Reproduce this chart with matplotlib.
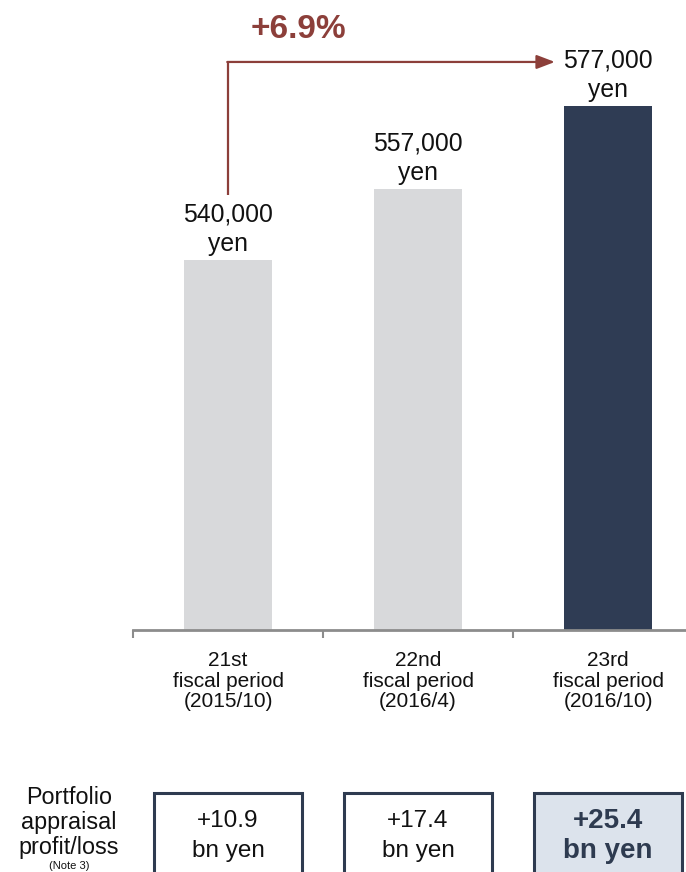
import matplotlib
matplotlib.use("Agg")
import matplotlib.pyplot as plt
from matplotlib.patches import Rectangle

plt.rcParams['font.family'] = ['Liberation Sans', 'DejaVu Sans']

# Data
periods = ["21st\nfiscal period\n(2015/10)",
           "22nd\nfiscal period\n(2016/4)",
           "23rd\nfiscal period\n(2016/10)"]
nav_per_unit = [540000, 557000, 577000]
appraisal_profit = [10.9, 17.4, 25.4]

light_bar = "#D8D9DB"
dark_bar = "#2F3C54"
arrow_col = "#8C3F3A"
box_edge = "#2E3B50"
box_fill_hl = "#DCE3EC"
text_col = "#111111"

W, H = 686, 872
fig = plt.figure(figsize=(W / 100, H / 100), dpi=100)

# Main bar axes: baseline at y=630 px, spans from x=133 px to right edge
ax = fig.add_axes([133 / W, (H - 630) / H, 1 - 133 / W, 630 / H])
x = list(range(len(nav_per_unit)))
colors = [light_bar, light_bar, dark_bar]
ax.bar(x, nav_per_unit, width=0.46, color=colors, zorder=2)
ax.set_xlim(-0.5, 2.41)
ax.set_ylim(451000, 602500)

for s in ["top", "right", "left"]:
    ax.spines[s].set_visible(False)
ax.spines["bottom"].set_color("#8C8C8C")
ax.spines["bottom"].set_linewidth(2)
ax.set_yticks([])
ax.set_xticks([-0.5, 0.5, 1.5], labels=[])
ax.tick_params(axis="x", length=6, width=1.5, color="#8C8C8C", direction="out")

for i, lab in enumerate(periods):
    ax.annotate(lab, xy=(i, 451000), xytext=(0, -15), textcoords="offset points",
                ha="center", va="top", fontsize=15, linespacing=1.12, color=text_col)

# Value labels above bars
for i, v in enumerate(nav_per_unit):
    ax.annotate(f"{v:,}\nyen", xy=(i, v), xytext=(0, 3), textcoords="offset points",
                ha="center", va="bottom", fontsize=17.8, linespacing=1.28, color=text_col)

# Growth arrow from first period to latest period
growth = nav_per_unit[-1] / nav_per_unit[0] - 1
y_start = nav_per_unit[0] + 15600
y_top = nav_per_unit[-1] + 10600
ax.plot([0, 0], [y_start, y_top], color=arrow_col, lw=1.6, solid_capstyle="butt", zorder=3)
ax.annotate("", xy=(1.72, y_top), xytext=(-0.004, y_top),
            arrowprops=dict(arrowstyle="-|>,head_length=1.1,head_width=0.42",
                            color=arrow_col, lw=1.6, shrinkA=0, shrinkB=0))
ax.annotate(f"+{growth * 100:.1f}%", xy=(0.37, y_top), xytext=(0, 12),
            textcoords="offset points", ha="center", va="bottom",
            fontsize=24, fontweight="bold", color=arrow_col, clip_on=False)

# Bottom row: appraisal profit boxes
bx = fig.add_axes([133 / W, 0, 1 - 133 / W, 100 / H])
bx.set_xlim(-0.5, 2.41)
bx.set_ylim(0, 100)
bx.axis("off")
for i, val in enumerate(appraisal_profit):
    last = i == len(appraisal_profit) - 1
    rect = Rectangle((i - 0.39, -10), 0.78, 89, facecolor=box_fill_hl if last else "white",
                     edgecolor=box_edge, lw=2.2, clip_on=False)
    bx.add_patch(rect)
    weight = "bold" if last else "normal"
    tcol = box_edge if last else text_col
    fs = 20 if last else 17.5
    bx.text(i, 51, f"+{val}", ha="center", va="center", fontsize=fs,
            fontweight=weight, color=tcol)
    bx.text(i, 21, "bn yen", ha="center", va="center", fontsize=fs,
            fontweight=weight, color=tcol)

fig.text(69 / W, 1 - 786 / H, "Portfolio\nappraisal\nprofit/loss", ha="center", va="top",
         fontsize=16.8, linespacing=1.1, color=text_col)
fig.text(69 / W, 1 - 866 / H, "(Note 3)", ha="center", va="center", fontsize=8, color=text_col)

fig.savefig("out.png", dpi=100)
